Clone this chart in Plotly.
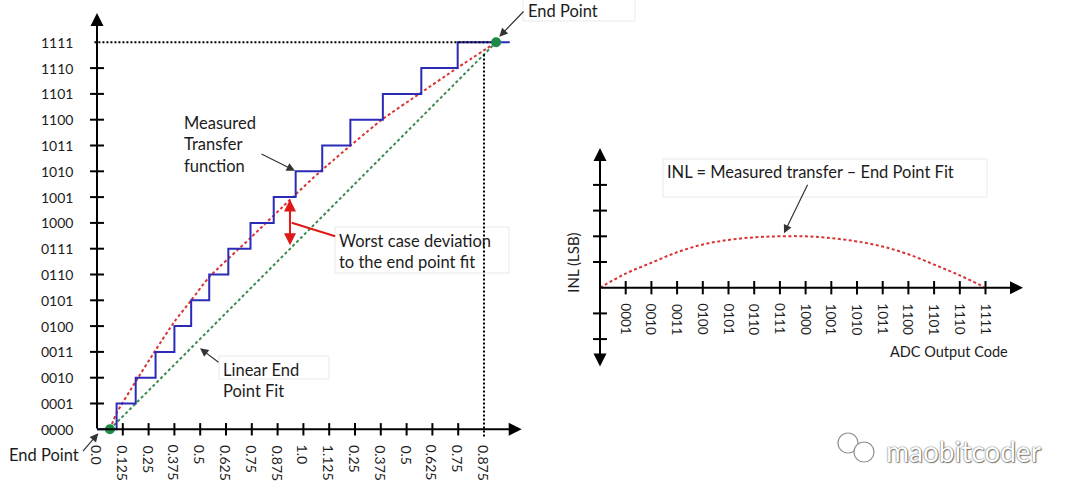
import plotly.graph_objects as go

W, H = 1080, 494

# ---------------- data ----------------
codes = ["0000", "0001", "0010", "0011", "0100", "0101", "0110", "0111",
         "1000", "1001", "1010", "1011", "1100", "1101", "1110", "1111"]
input_labels = ["0.0", "0.125", "0.25", "0.375", "0.5", "0.625", "0.75", "0.875",
                "1.0", "1.125", "0.25", "0.375", "0.5", "0.625", "0.75", "0.875"]
# input positions (in tick units) where the measured code steps up to 0001..1111
step_edges = [0.76, 1.5, 2.27, 3.0, 3.65, 4.35, 5.09, 5.95, 6.85, 7.7, 8.73, 9.82, 11.08, 12.57, 13.98]
step_end = 16.0
# smooth (dashed red) measured transfer curve
curve_x = [0.5, 0.76, 1.5, 2.27, 3.0, 3.65, 4.35, 5.93, 7.61, 8.64, 11.03, 12.52, 13.94, 15.47]
curve_y = [0, 0.63, 1.85, 3.07, 4.17, 5.0, 5.9, 7.4, 9.02, 9.98, 11.99, 13.02, 13.99, 15]
# end points of the linear end point fit
endpoints_x = [0.5, 15.47]
endpoints_y = [0, 15]
# worst case deviation position
dev_x = 7.48
dev_lo, dev_hi = 7.08, 8.91
# INL curve (LSB) per output code
inl_codes = list(range(16))
inl_values = [0, 0.55, 0.97, 1.38, 1.68, 1.86, 1.96, 2.0, 2.0, 1.93, 1.8, 1.6, 1.3, 0.9, 0.48, 0]
inl_yticks = [-2, -1, 1, 2, 3, 4]

# ---------------- geometry ----------------
UL, OXL, OYL = 25.8, 97.0, 429.3      # left chart unit/origin (px)
UR, OXR, OYR = 25.7, 600.0, 287.7     # right chart unit/origin (px)

FONT = "Lato, 'Open Sans', sans-serif"
TXT = "#1c1c1c"
BLUE = "#2b2bb8"
RED = "#d83434"
GREEN = "#3b8a4f"
DOT = "#1c8a48"


def P(px, py):
    return px / W, 1 - py / H


fig = go.Figure()

# green linear end point fit
fig.add_trace(go.Scatter(x=endpoints_x, y=endpoints_y, mode="lines",
                         line=dict(color=GREEN, width=2, dash="3px,2.5px"),
                         xaxis="x", yaxis="y", hoverinfo="skip"))
# red dashed measured curve
fig.add_trace(go.Scatter(x=curve_x, y=curve_y, mode="lines",
                         line=dict(color=RED, width=2, dash="3px,2.5px", shape="spline", smoothing=0.6),
                         xaxis="x", yaxis="y", hoverinfo="skip"))
# blue staircase
fig.add_trace(go.Scatter(x=[0] + step_edges + [step_end], y=list(range(16)) + [15], mode="lines",
                         line=dict(color=BLUE, width=2, shape="hv"),
                         xaxis="x", yaxis="y", hoverinfo="skip"))
# black dotted guide lines
slope = (endpoints_y[1] - endpoints_y[0]) / (endpoints_x[1] - endpoints_x[0])
fit_at_15 = (15 - endpoints_x[0]) * slope
fig.add_trace(go.Scatter(x=[-0.1, endpoints_x[1], None, 15, 15],
                         y=[15, 15, None, fit_at_15, -0.3], mode="lines",
                         line=dict(color="black", width=2, dash="2px,2px"),
                         xaxis="x", yaxis="y", hoverinfo="skip"))
# tick marks left chart
tx, ty = [], []
for v in range(1, 15):
    tx += [-0.27, 0.27, None]
    ty += [v, v, None]
for k in range(1, 15):
    tx += [k, k, None]
    ty += [-0.24, 0.24, None]
fig.add_trace(go.Scatter(x=tx, y=ty, mode="lines", line=dict(color="black", width=2),
                         xaxis="x", yaxis="y", hoverinfo="skip"))
# green end points
fig.add_trace(go.Scatter(x=endpoints_x, y=endpoints_y, mode="markers",
                         marker=dict(color=DOT, size=10), cliponaxis=False,
                         xaxis="x", yaxis="y", hoverinfo="skip"))

# right chart ticks
rx, ry = [], []
for v in inl_yticks:
    rx += [-0.27, 0.27, None]
    ry += [v, v, None]
for k in range(1, 16):
    rx += [k, k, None]
    ry += [-0.26, 0.26, None]
fig.add_trace(go.Scatter(x=rx, y=ry, mode="lines", line=dict(color="black", width=2),
                         xaxis="x2", yaxis="y2", hoverinfo="skip"))
# INL curve
fig.add_trace(go.Scatter(x=inl_codes, y=inl_values, mode="lines",
                         line=dict(color=RED, width=2, dash="3px,2.5px", shape="spline", smoothing=1.0),
                         xaxis="x2", yaxis="y2", hoverinfo="skip"))

ann = []


def axis_arrow(xref, yref, x0, y0, x1, y1, both=False):
    d = dict(x=x1, y=y1, ax=x0, ay=y0, xref=xref, yref=yref, axref=xref, ayref=yref,
             text="", showarrow=True, arrowhead=2, arrowsize=1.3, arrowwidth=2,
             arrowcolor="black", standoff=0, startstandoff=0)
    if both:
        d.update(arrowside="end+start", startarrowhead=2, startarrowsize=1.3)
    ann.append(d)


# left axes
axis_arrow("x", "y", 0, -0.03, 0, (OYL - 13) / UL)
axis_arrow("x", "y", -0.05, 0, (521.7 - OXL) / UL, 0)
# right axes
axis_arrow("x2", "y2", 0, (OYR - 368) / UR, 0, (OYR - 148) / UR, both=True)
axis_arrow("x2", "y2", -0.1, 0, (1023 - OXR) / UR, 0)

# tick labels left
for v, c in enumerate(codes):
    ann.append(dict(x=(75 - OXL) / UL, y=v, xref="x", yref="y", text=c, showarrow=False,
                    xanchor="right", yanchor="middle", font=dict(family=FONT, size=14, color=TXT)))
for k, lab in enumerate(input_labels):
    ann.append(dict(x=k, y=(OYL - 443) / UL, xref="x", yref="y", text=lab, showarrow=False,
                    textangle=90, xanchor="center", yanchor="top",
                    font=dict(family=FONT, size=14, color=TXT)))
# tick labels right
for k in range(1, 16):
    ann.append(dict(x=k, y=(OYR - 301.5) / UR, xref="x2", yref="y2", text=codes[k], showarrow=False,
                    textangle=90, xanchor="center", yanchor="top",
                    font=dict(family=FONT, size=13.5, color=TXT)))

# red double arrow (worst case deviation)
ann.append(dict(x=dev_x, y=dev_hi, ax=dev_x, ay=dev_lo, xref="x", yref="y", axref="x", ayref="y",
                text="", showarrow=True, arrowhead=2, arrowsize=1.2, arrowwidth=2, arrowcolor="#e01818",
                arrowside="end+start", startarrowhead=2, startarrowsize=1.2, standoff=0, startstandoff=0))


def text(px, py, s, size=16.5, xanchor="left", yanchor="middle", angle=0, color=TXT):
    x, y = P(px, py)
    ann.append(dict(x=x, y=y, xref="paper", yref="paper", text=s, showarrow=False,
                    xanchor=xanchor, yanchor=yanchor, align="left", textangle=angle,
                    font=dict(family=FONT, size=size, color=color)))


def pointer(tail, tip, color="#333", head=2, width=1.2):
    x, y = P(*tip)
    ann.append(dict(x=x, y=y, xref="paper", yref="paper", text="", showarrow=True,
                    ax=tail[0] - tip[0], ay=tail[1] - tip[1], axref="pixel", ayref="pixel",
                    arrowhead=head, arrowsize=1.4, arrowwidth=width, arrowcolor=color,
                    standoff=0, startstandoff=0))


text(182, 111, "Measured<br>Transfer<br>function", yanchor="top")
text(337, 228.5, "Worst case deviation<br>to the end point fit", yanchor="top")
text(221, 357.5, "Linear End<br>Point Fit", yanchor="top")
text(526, 11, "End Point")
text(7, 455, "End Point")
text(665, 172.3, "INL = Measured transfer \u2013 End Point Fit")
text(572.7, 263, "INL (LSB)", size=15, xanchor="center", angle=-90)
text(888, 351, "ADC Output Code", size=14.5)

pointer((260, 153.3), (295, 170.7))
pointer((220, 363.3), (200, 348.3))
pointer((81.7, 452.7), (98.3, 433.3))
pointer((525, 10), (499.3, 36.7))
pointer((808.3, 183.3), (784, 233.3))
pointer((336.7, 236.7), (291.7, 222.7), color="#e01818", head=0, width=2)

# watermark
x, y = P(884, 451)
ann.append(dict(x=x, y=y, xref="paper", yref="paper", text="maobitcoder", showarrow=False,
                xanchor="left", yanchor="middle",
                font=dict(family=FONT, size=28, color="#ffffff",
                          shadow="0px 0px 1.5px #333, 1px 1px 1px #888")))

shapes = []


def box(x0, y0, x1, y1):
    a0, b0 = P(x0, y1)
    a1, b1 = P(x1, y0)
    shapes.append(dict(type="rect", xref="paper", yref="paper", x0=a0, y0=b0, x1=a1, y1=b1,
                       line=dict(color="#e9e9e9", width=1), fillcolor="rgba(0,0,0,0)", layer="below"))


box(335, 227, 509, 273)
box(663, 159, 987, 197)
box(523, -2, 635, 21)
box(219, 356, 329, 379)


def circ(cx, cy, r):
    a0, b0 = P(cx - r, cy + r)
    a1, b1 = P(cx + r, cy - r)
    shapes.append(dict(type="circle", xref="paper", yref="paper", x0=a0, y0=b0, x1=a1, y1=b1,
                       line=dict(color="#909090", width=1.2), fillcolor="white", layer="above"))


circ(848, 443, 10)
circ(864, 452, 10)

fig.update_layout(
    width=W, height=H, margin=dict(l=0, r=0, t=0, b=0),
    paper_bgcolor="white", plot_bgcolor="white", showlegend=False,
    xaxis=dict(domain=[0, 0.5], range=[-OXL / UL, (540 - OXL) / UL], visible=False, fixedrange=True),
    yaxis=dict(domain=[0, 1], range=[(OYL - H) / UL, OYL / UL], visible=False, fixedrange=True),
    xaxis2=dict(domain=[0.5, 1], range=[(540 - OXR) / UR, (W - OXR) / UR], visible=False,
                fixedrange=True, anchor="y2"),
    yaxis2=dict(domain=[0, 1], range=[(OYR - H) / UR, OYR / UR], visible=False,
                fixedrange=True, anchor="x2"),
    annotations=ann, shapes=shapes,
)

fig.write_html("out.html", config={"displayModeBar": False},
               post_script="document.body.style.margin='0';document.body.style.overflow='hidden';")
